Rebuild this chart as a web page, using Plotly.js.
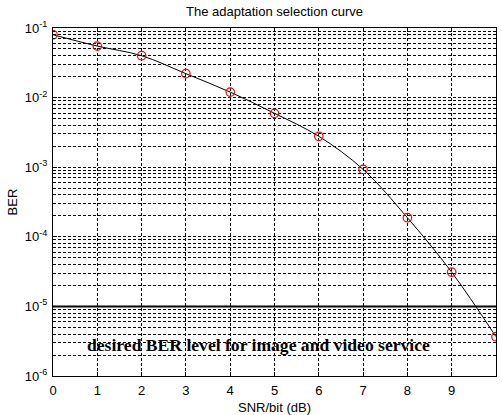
<!DOCTYPE html>
<html>
<head>
<meta charset="utf-8">
<script src="https://cdn.plot.ly/plotly-3.0.1.min.js"></script>
<style>html,body{margin:0;padding:0;background:#fff;}#chart{width:502px;height:415px;}</style>
</head>
<body>
<div id="chart"></div>
<script>
const snr = [0, 1, 2, 3, 4, 5, 6, 7, 8, 9, 10];
const ber = [0.080, 0.055, 0.040, 0.0221, 0.012, 0.00594, 0.00278, 0.00093, 0.000188, 0.000031, 0.00000367];
const thresholdX = [0, 10];
const thresholdY = [1e-5, 1e-5];
const xTicks = [0, 1, 2, 3, 4, 5, 6, 7, 8, 9, 10];
const yTickVals = [1e-6, 1e-5, 1e-4, 1e-3, 1e-2, 1e-1];
const yTickText = ["10<sup>-6</sup>", "10<sup>-5</sup>", "10<sup>-4</sup>", "10<sup>-3</sup>", "10<sup>-2</sup>", "10<sup>-1</sup>"];
const noteText = "desired BER level for image and video service";
const noteX = 4.63, noteY = 2.8e-6;

const traces = [
  {x: snr, y: ber, mode: 'lines', line: {color: '#000', width: 1, shape: 'spline'}, hoverinfo: 'skip'},
  {x: snr, y: ber, mode: 'markers', marker: {symbol: 'circle-open', color: '#ff0000', size: 8.5, line: {width: 1.2, color: '#ff0000'}}},
  {x: thresholdX, y: thresholdY, mode: 'lines', line: {color: '#000', width: 2}}
];

const axFont = {family: 'Liberation Sans, Arial, sans-serif', size: 13, color: '#000'};
const layout = {
  width: 502, height: 415,
  margin: {l: 53, r: 6, t: 28, b: 39},
  paper_bgcolor: '#fff', plot_bgcolor: '#fff',
  showlegend: false,
  title: {text: 'The adaptation selection curve', font: axFont, xref: 'paper', x: 0.5, xanchor: 'center', y: 0.972, yanchor: 'middle'},
  xaxis: {
    range: [0, 10], tickvals: xTicks, ticks: 'inside', ticklen: 4, tickcolor: '#000',
    showline: true, linecolor: '#000', linewidth: 1, mirror: 'ticks',
    showgrid: true, gridcolor: '#000', gridwidth: 1, griddash: '3px,2px',
    zeroline: false, tickfont: axFont, ticklabelstandoff: 2,
    title: {text: 'SNR/bit (dB)', font: axFont, standoff: 8}
  },
  yaxis: {
    type: 'log', range: [-6, -1], tickvals: yTickVals, ticktext: yTickText,
    ticks: 'inside', ticklen: 4, tickcolor: '#000',
    showline: true, linecolor: '#000', linewidth: 1, mirror: 'ticks',
    showgrid: true, gridcolor: '#000', gridwidth: 1, griddash: '3px,2px',
    minor: {dtick: 'D1', ticks: 'inside', ticklen: 2, tickcolor: '#000', showgrid: true, gridcolor: '#000', gridwidth: 1, griddash: '3px,2px'},
    zeroline: false, tickfont: axFont, ticklabelstandoff: 2,
    title: {text: 'BER', font: axFont, standoff: 4}
  },
  annotations: [{
    x: noteX, y: Math.log10(noteY), xref: 'x', yref: 'y', text: noteText, showarrow: false,
    font: {family: 'Liberation Serif, Times New Roman, serif', size: 17.6, color: '#000', weight: 'bold'},
    bgcolor: 'rgba(0,0,0,0)'
  }]
};

Plotly.newPlot('chart', traces, layout, {displayModeBar: false, staticPlot: true});
</script>
</body>
</html>
